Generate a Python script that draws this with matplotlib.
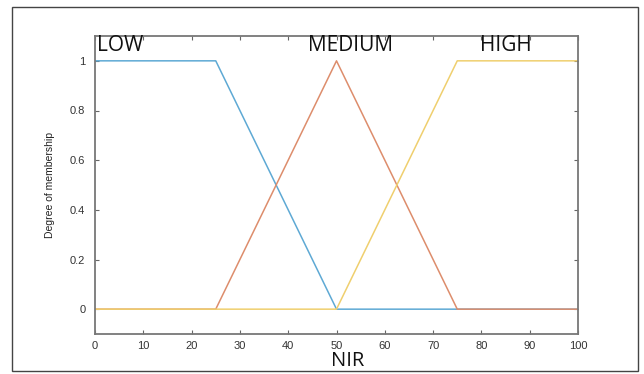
import matplotlib
matplotlib.use("Agg")
import matplotlib.pyplot as plt
from matplotlib.patches import Rectangle

# Membership functions for NIR (trapezoid / triangle / trapezoid)
low_x = [0, 25, 50, 100]
low_y = [1, 1, 0, 0]
medium_x = [0, 25, 50, 75, 100]
medium_y = [0, 0, 1, 0, 0]
high_x = [0, 50, 75, 100]
high_y = [0, 0, 1, 1]

labels = ["LOW", "MEDIUM", "HIGH"]
label_x = [0.5, 53, 85]

x_ticks = list(range(0, 101, 10))
y_ticks = [0, 0.2, 0.4, 0.6, 0.8, 1]

W, H = 644, 374
fig = plt.figure(figsize=(W / 100, H / 100), dpi=100)
fig.patch.set_facecolor("white")
fig.patches.append(Rectangle((12 / W, 1 - 371 / H), (638 - 12) / W, (371 - 7) / H,
                             transform=fig.transFigure, fill=False,
                             edgecolor="#444444", linewidth=1.0))

ax = fig.add_axes([95 / W, 1 - 334 / H, (578 - 95) / W, (334 - 36) / H])
ax.plot(low_x, low_y, color="#5ea9d4", linewidth=1.1)
ax.plot(medium_x, medium_y, color="#dd8d6c", linewidth=1.1)
ax.plot(high_x, high_y, color="#efcf6e", linewidth=1.1)

ax.set_xlim(0, 100)
ax.set_ylim(-0.1, 1.1)
ax.set_xticks(x_ticks)
ax.set_yticks(y_ticks)
ax.set_yticklabels(["0", "0.2", "0.4", "0.6", "0.8", "1"])
ax.tick_params(direction="in", length=3, width=0.8, colors="#666666",
               labelsize=8, top=True, right=True, pad=7)
ax.tick_params(axis="x", pad=5)
ax.tick_params(labelcolor="#333333")
for t in ax.get_xticklabels() + ax.get_yticklabels():
    t.set_fontfamily("Liberation Sans")
for s in ax.spines.values():
    s.set_color("#777777")
    s.set_linewidth(1.3)

ax.set_ylabel("Degree of membership", fontsize=7.5, color="#222222",
              family="Liberation Sans")
ax.yaxis.set_label_coords(-0.082, 0.5)
ax.set_xlabel("NIR", fontsize=14.5, color="#111111", family="Open Sans")
ax.xaxis.set_label_coords(0.522, -0.091)
ax.xaxis.label.set_va("center")

for lab, lx in zip(labels, label_x):
    ha = "left" if lab == "LOW" else "center"
    ax.text(lx, 1.06, lab, fontsize=15, ha=ha, va="center", color="#111111",
            family="Open Sans")

fig.savefig("out.png", dpi=100)
